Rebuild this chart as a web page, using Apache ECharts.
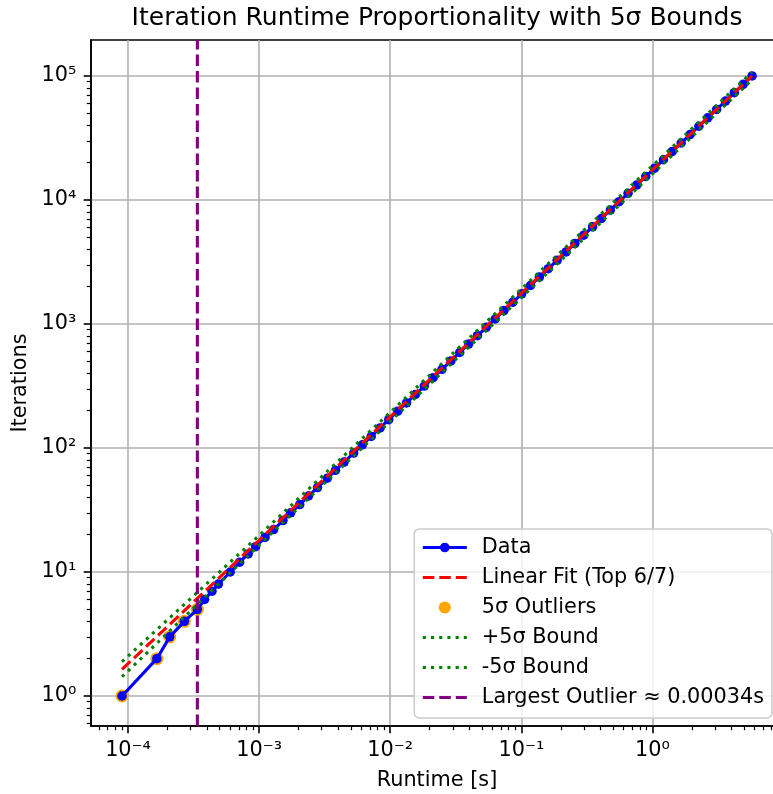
<!DOCTYPE html>
<html>
<head>
<meta charset="utf-8">
<script src="https://cdn.jsdelivr.net/npm/echarts@6/dist/echarts.min.js"></script>
<style>html,body{margin:0;padding:0;background:#fff}#c{width:773px;height:794px}</style>
</head>
<body>
<div id="c"></div>
<script>
// ---- data ----
const iterations = [1,2,3,4,5,6,7,8,10,12,14,16,19,22,26,30,35,41,48,57,66,77,91,106,124,145,169,198,231,270,316,369,431,504,589,688,804,939,1097,1282,1498,1750,2045,2389,2792,3261,3811,4452,5202,6077,7100,8296,9693,11325,13232,15459,18061,21101,24653,28803,33651,39316,45934,53666,62700,73253,85584,100000];
const runtimes = [9.0e-5,1.66e-4,2.08e-4,2.69e-4,3.38e-4,3.84e-4,4.37e-4,4.89e-4,6.02e-4,7.1e-4,8.25e-4,9.4e-4,1.11e-3,1.29e-3,1.52e-3,1.74e-3,2.04e-3,2.38e-3,2.79e-3,3.31e-3,3.82e-3,4.45e-3,5.26e-3,6.13e-3,7.16e-3,8.37e-3,9.74e-3,1.141e-2,1.331e-2,1.556e-2,1.818e-2,2.124e-2,2.48e-2,2.902e-2,3.388e-2,3.96e-2,4.625e-2,5.4e-2,6.31e-2,7.372e-2,8.617e-2,1.0065e-1,1.176e-1,1.374e-1,1.6055e-1,1.875e-1,2.1915e-1,2.56e-1,2.991e-1,3.4945e-1,4.083e-1,4.77e-1,5.574e-1,6.512e-1,7.6085e-1,8.889e-1,1.0385,1.2133,1.4176,1.6562,1.935,2.2607,2.6412,3.0858,3.6053,4.212,4.9211,5.75];
const outlierCount = 5;
const fitRuntime = [9.0e-5, 5.75];
const fitIterations = [1.64, 1.0e5];
const boundRuntime = [9.0e-5, 1.0e-3, 5.75];
const upperIterations = [1.89, 19.7, 1.075e5];
const lowerIterations = [1.43, 16.5, 0.93e5];
const largestOutlier = 3.38e-4;
const xTickExponents = [-4, -3, -2, -1, 0];
const yTickExponents = [0, 1, 2, 3, 4, 5];
const xLimits = [5.22e-5, 9.9];
const yLimits = [0.573, 1.95e5];

// ---- build ----
const F = 'DejaVu Sans';
const L = Math.log10;
const xMin = L(xLimits[0]), xMax = L(xLimits[1]);
const yMin = L(yLimits[0]), yMax = L(yLimits[1]);
const SUP = {'-':'\u207B','0':'\u2070','1':'\u00B9','2':'\u00B2','3':'\u00B3','4':'\u2074','5':'\u2075','6':'\u2076','7':'\u2077','8':'\u2078','9':'\u2079'};
const fmt = v => '10' + String(Math.round(v)).split('').map(c => SUP[c]).join('');
function minorTicks(lo, hi) {
  const out = [];
  for (let e = Math.floor(lo) - 1; e <= Math.ceil(hi); e++) {
    for (let k = 2; k <= 9; k++) {
      const v = L(k) + e;
      if (v >= lo && v <= hi) out.push(v);
    }
  }
  return out;
}
const xMinor = minorTicks(xMin, xMax);
const yMinor = minorTicks(yMin, yMax);

const pair = (xs, ys) => xs.map((x, i) => [L(x), L(ys[i])]);
const dataPts = pair(runtimes, iterations);
const outlierPts = dataPts.slice(0, outlierCount);
const fitPts = pair(fitRuntime, fitIterations);
const upperPts = pair(boundRuntime, upperIterations);
const lowerPts = pair(boundRuntime, lowerIterations);
const vlinePts = [[L(largestOutlier), yMin], [L(largestOutlier), yMax]];

const names = ['Data', 'Linear Fit (Top 6/7)', '5\u03C3 Outliers', '+5\u03C3 Bound', '-5\u03C3 Bound', 'Largest Outlier \u2248 0.00034s'];
const noMarker = {color: 'rgba(0,0,0,0)', borderColor: 'rgba(0,0,0,0)', borderWidth: 0, opacity: 0};

const axisTxt = {fontFamily: F, fontSize: 20.8, color: '#000'};
const mainAxis = (min, max, ticks, pos, name, gap) => ({
  type: 'value', min: min, max: max, position: pos,
  axisLine: {show: true, onZero: false, lineStyle: {color: '#000', width: 1.6}},
  axisTick: {show: true, customValues: ticks, length: 7.3, lineStyle: {color: '#000', width: 1.6}},
  axisLabel: Object.assign({customValues: ticks, formatter: fmt, margin: 14.6}, axisTxt),
  splitLine: {show: true, lineStyle: {color: '#b0b0b0', width: 1.6}},
  name: name, nameLocation: 'middle', nameGap: gap, nameTextStyle: axisTxt
});
const minorAxis = (min, max, ticks, pos) => ({
  type: 'value', min: min, max: max, position: pos,
  axisLine: {show: false, onZero: false},
  axisTick: {show: true, customValues: ticks, length: 4.2, lineStyle: {color: '#000', width: 1.2}},
  axisLabel: {show: false}, splitLine: {show: false}
});

const chart = echarts.init(document.getElementById('c'), null, {renderer: 'canvas'});
chart.setOption({
  animation: false,
  backgroundColor: '#fff',
  title: {
    text: 'Iteration Runtime Proportionality with 5\u03C3 Bounds',
    left: 437, top: 6, textAlign: 'center', padding: 0,
    textStyle: {fontFamily: F, fontSize: 25, fontWeight: 'normal', color: '#000'}
  },
  grid: {left: 91, top: 40, width: 692, height: 686, show: true, borderColor: '#000', borderWidth: 1.6,
         backgroundColor: 'transparent', containLabel: false, outerBoundsMode: 'none'},
  xAxis: [mainAxis(xMin, xMax, xTickExponents, 'bottom', 'Runtime [s]', 44), minorAxis(xMin, xMax, xMinor, 'bottom')],
  yAxis: [mainAxis(yMin, yMax, yTickExponents, 'left', 'Iterations', 59), minorAxis(yMin, yMax, yMinor, 'left')],
  legend: {
    orient: 'vertical', right: 1, top: 529, align: 'left',
    padding: [8, 8, 10, 7],
    itemWidth: 44, itemHeight: 12, itemGap: 9,
    backgroundColor: 'rgba(255,255,255,0.8)', borderColor: '#cccccc', borderWidth: 1.6, borderRadius: 5,
    textStyle: {fontFamily: F, fontSize: 20.8, color: '#000', lineHeight: 21, padding: [0, 0, 0, 10]},
    lineStyle: {width: 3.1},
    selectedMode: false,
    data: [
      {name: names[0]},
      {name: names[1], itemStyle: noMarker},
      {name: names[2]},
      {name: names[3], itemStyle: noMarker},
      {name: names[4], itemStyle: noMarker},
      {name: names[5], itemStyle: noMarker}
    ]
  },
  series: [
    {name: names[2], type: 'scatter', data: outlierPts, symbol: 'circle', symbolSize: 13,
     itemStyle: {color: '#ffa500', opacity: 1}, z: 2, silent: true},
    {name: names[0], type: 'line', data: dataPts, symbol: 'circle', symbolSize: 9.5, showSymbol: true,
     itemStyle: {color: '#0000ff', borderWidth: 0}, lineStyle: {color: '#0000ff', width: 3.1}, z: 3, silent: true},
    {name: names[1], type: 'line', data: fitPts, symbol: 'none',
     lineStyle: {color: '#ff0000', width: 3.1, type: [11.5, 5]}, itemStyle: {color: '#ff0000'}, z: 4, silent: true},
    {name: names[3], type: 'line', data: upperPts, symbol: 'none',
     lineStyle: {color: '#008000', width: 3.1, type: [3.1, 5.1]}, itemStyle: {color: '#008000'}, z: 5, silent: true},
    {name: names[4], type: 'line', data: lowerPts, symbol: 'none',
     lineStyle: {color: '#008000', width: 3.1, type: [3.1, 5.1]}, itemStyle: {color: '#008000'}, z: 5, silent: true},
    {name: names[5], type: 'line', data: vlinePts, symbol: 'none',
     lineStyle: {color: '#800080', width: 3.1, type: [11.5, 5]}, itemStyle: {color: '#800080'}, z: 6, silent: true}
  ]
});
</script>
</body>
</html>
